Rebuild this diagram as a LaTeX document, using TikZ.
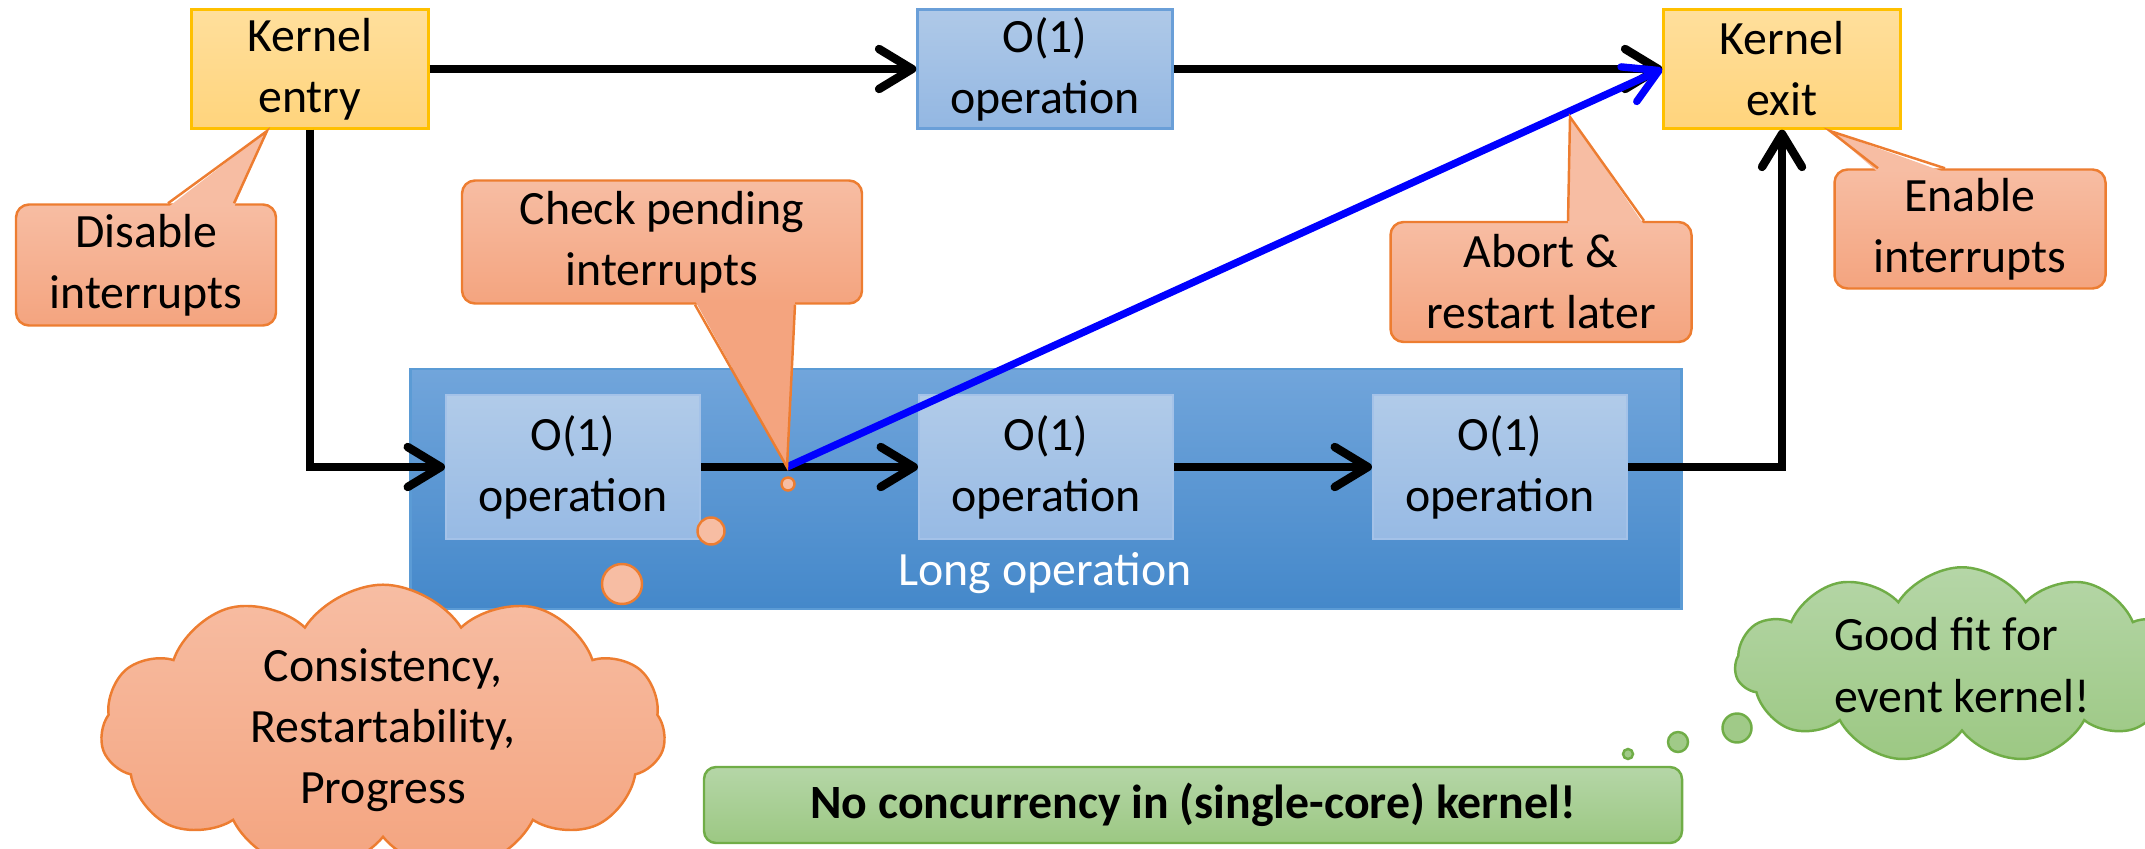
\documentclass[tikz,border=0pt]{standalone}
\usepackage{fontspec}
\setmainfont{Carlito}
\usetikzlibrary{arrows.meta,positioning,calc,shapes.symbols}

\definecolor{kernTop}{HTML}{FFDF9C}
\definecolor{kernBot}{HTML}{FFD47C}
\definecolor{kernEdge}{HTML}{FFC000}
\definecolor{opTop}{HTML}{AFC9E8}
\definecolor{opBot}{HTML}{93B7E2}
\definecolor{opEdge}{HTML}{6A9FD8}
\definecolor{inTop}{HTML}{B1CBE9}
\definecolor{inBot}{HTML}{97BAE4}
\definecolor{inEdge}{HTML}{A4C2E8}
\definecolor{longTop}{HTML}{71A5DB}
\definecolor{longBot}{HTML}{4488CA}
\definecolor{longEdge}{HTML}{5B9BD5}
\definecolor{calTop}{HTML}{F7BDA3}
\definecolor{calBot}{HTML}{F4A47F}
\definecolor{calEdge}{HTML}{ED7D31}
\definecolor{grnTop}{HTML}{B5D6A7}
\definecolor{grnBot}{HTML}{9CC883}
\definecolor{grnEdge}{HTML}{70AD47}

\begin{document}
\begin{tikzpicture}[x=1cm,y=1cm]
\tikzset{
  txt/.style={font=\fontsize{13.6}{17.4}\selectfont,align=center,inner sep=1pt},
  kernelbox/.style={txt,rectangle,draw=kernEdge,line width=0.7pt,top color=kernTop,bottom color=kernBot,minimum width=2.37cm,minimum height=1.19cm},
  opbox/.style={txt,rectangle,draw=opEdge,line width=0.7pt,top color=opTop,bottom color=opBot,minimum width=2.55cm,minimum height=1.19cm},
  opinner/.style={txt,rectangle,draw=inEdge,line width=0.6pt,top color=inTop,bottom color=inBot,minimum width=2.54cm,minimum height=1.44cm},
  longbox/.style={rectangle,draw=longEdge,line width=0.7pt,top color=longTop,bottom color=longBot,minimum width=12.71cm,minimum height=2.40cm},
  calloutbox/.style={txt,rectangle,rounded corners=1.3mm,draw=calEdge,line width=0.7pt,top color=calTop,bottom color=calBot},
  calloutrim/.style={draw=calEdge,line width=0.7pt},
  bubble/.style={circle,draw=calEdge,line width=0.7pt,fill=calTop,inner sep=0pt},
  gbubble/.style={circle,draw=grnEdge,line width=0.7pt,fill=grnBot!85!grnTop,inner sep=0pt},
  thought/.style={txt,cloud,cloud puffs=11,cloud puff arc=115,cloud ignores aspect,line width=0.7pt},
  greenbar/.style={txt,rectangle,rounded corners=1.2mm,draw=grnEdge,line width=0.7pt,top color=grnTop,bottom color=grnBot,minimum width=9.78cm,minimum height=0.76cm},
  flow/.style={-{Straight Barb[length=3.3mm,width=4mm,round]},line width=2.4pt},
  abortflow/.style={-{Straight Barb[length=3.3mm,width=3.8mm,round]},line width=2.1pt,blue}
}
\useasboundingbox (0,0) rectangle (21.45,8.48);
\clip (0,0) rectangle (21.45,8.48);

% long operation
\node[longbox] (n_long) at (10.46,3.59) {};
\node[txt,text=white] (n_longlabel) at (10.45,2.75) {Long operation};
\node[opinner] (n_op1) at (5.73,3.81) {O(1)\\operation};
\node[opinner] (n_op2) at (10.46,3.81) {O(1)\\operation};
\node[opinner] (n_op3) at (15.00,3.81) {O(1)\\operation};

% top row
\node[kernelbox] (n_entry) at (3.10,7.79) {Kernel\\entry};
\node[opbox] (n_fastop) at (10.45,7.79) {O(1)\\operation};
\node[kernelbox] (n_exit) at (17.82,7.79) {Kernel\\exit};

% flow
\draw[flow] (n_entry) -- (n_fastop);
\draw[flow] (n_fastop) -- (n_exit);
\draw[flow] (n_entry) |- (n_op1);
\draw[flow] (n_op1) -- (n_op2);
\draw[flow] (n_op2) -- (n_op3);
\draw[flow] (n_op3) -| (n_exit);
\coordinate (c_check) at (7.87,3.81);
\draw[abortflow] (c_check) -- (n_exit.west);

% callouts
\node[calloutbox,minimum width=2.60cm,minimum height=1.21cm] (n_disable) at (1.46,5.83) {Disable\\interrupts};
\coordinate (c_disable) at (2.67,7.17);
\fill[calTop] ($(n_disable.north)+(0.22,-0.04)$) -- (c_disable) -- ($(n_disable.north)+(0.88,-0.04)$) -- cycle;
\draw[calloutrim] ($(n_disable.north)+(0.22,0)$) -- (c_disable) -- ($(n_disable.north)+(0.88,0)$);

\node[calloutbox,minimum width=4.00cm,minimum height=1.23cm] (n_check) at (6.62,6.06) {Check pending\\interrupts};
\fill[calBot] ($(n_check.south)+(0.33,0.04)$) -- (c_check) -- ($(n_check.south)+(1.33,0.04)$) -- cycle;
\draw[calloutrim] ($(n_check.south)+(0.33,0)$) -- (c_check) -- ($(n_check.south)+(1.33,0)$);

\node[calloutbox,minimum width=3.01cm,minimum height=1.20cm] (n_abort) at (15.41,5.66) {Abort \&\\restart later};
\coordinate (c_abort) at (15.70,7.31);
\fill[calTop] ($(n_abort.north)+(0.27,-0.04)$) -- (c_abort) -- ($(n_abort.north)+(1.03,-0.04)$) -- cycle;
\draw[calloutrim] ($(n_abort.north)+(0.27,0)$) -- (c_abort) -- ($(n_abort.north)+(1.03,0)$);

\node[calloutbox,minimum width=2.71cm,minimum height=1.19cm] (n_enable) at (19.70,6.19) {Enable\\interrupts};
\coordinate (c_enable) at (18.30,7.17);
\fill[calTop] ($(n_enable.north)+(-0.92,-0.04)$) -- (c_enable) -- ($(n_enable.north)+(-0.25,-0.04)$) -- cycle;
\draw[calloutrim] ($(n_enable.north)+(-0.92,0)$) -- (c_enable) -- ($(n_enable.north)+(-0.25,0)$);

% thought bubbles
\node[bubble,minimum size=0.13cm] (n_b1) at (7.88,3.64) {};
\node[bubble,minimum size=0.27cm] (n_b2) at (7.11,3.17) {};
\node[bubble,minimum size=0.40cm] (n_b3) at (6.22,2.64) {};
\node[thought,draw=calEdge,top color=calTop,bottom color=calBot,minimum width=5.65cm,minimum height=2.45cm] (n_props) at (3.83,1.18) {Consistency,\\Restartability,\\Progress};

\node[gbubble,minimum size=0.10cm] (n_g1) at (16.28,0.94) {};
\node[gbubble,minimum size=0.20cm] (n_g2) at (16.78,1.06) {};
\node[gbubble,minimum size=0.29cm] (n_g3) at (17.37,1.20) {};
\node[thought,draw=grnEdge,top color=grnTop,bottom color=grnBot,minimum width=4.54cm,minimum height=1.72cm,align=left] (n_goodfit) at (19.62,1.83) {Good fit for\\event kernel!};

\node[greenbar] (n_nocon) at (11.93,0.43) {\bfseries No concurrency in (single-core) kernel!};
\end{tikzpicture}
\end{document}
